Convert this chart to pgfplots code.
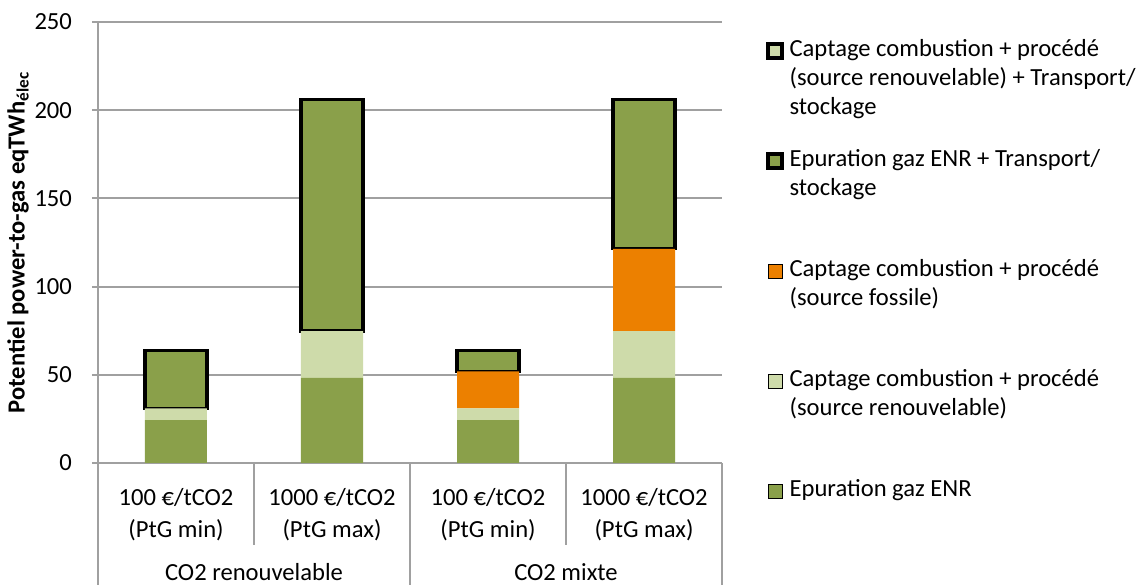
\documentclass[border=0pt]{standalone}
\usepackage{fontspec}
\setmainfont{Carlito}
\usepackage{pgfplots}
\pgfplotsset{compat=1.18}
\definecolor{enr}{RGB}{138,160,74}
\definecolor{ren}{RGB}{206,219,170}
\definecolor{fos}{RGB}{236,128,0}
\definecolor{axg}{RGB}{160,160,160}
\newcommand{\lt}[1]{\parbox[t]{190pt}{\strut #1}}
\begin{document}
\begin{tikzpicture}
\begin{axis}[name=a,
  scale only axis, width=312pt, height=220.5pt,
  ybar stacked, bar width=31pt,
  xmin=-0.5, xmax=3.5, ymin=0, ymax=250,
  xtick={0,1,2,3},
  xticklabels={{100 €/tCO2\\(PtG min)},{1000 €/tCO2\\(PtG max)},{100 €/tCO2\\(PtG min)},{1000 €/tCO2\\(PtG max)}},
  xticklabel style={align=center, font=\fontsize{12.3}{16}\selectfont, yshift=-6pt},
  xtick style={draw=none},
  ytick={0,50,...,250},
  ytick style={draw=axg, line width=1pt},
  tick align=outside, major tick length=3pt,
  yticklabel style={font=\fontsize{12.3}{14.6}\selectfont, xshift=-6.5pt},
  /pgf/number format/assume math mode=true,
  ymajorgrids, grid style={axg, line width=1pt},
  axis lines*=left, axis line style={axg, line width=1pt},
  clip=false,
  ylabel={\textbf{Potentiel power-to-gas eqTWh\textsubscript{élec}}},
  ylabel style={at={(axis description cs:-0.128,0.5)}, anchor=center, font=\fontsize{12.3}{14.6}\selectfont},
  legend image code/.code={\draw[#1] (0pt,16.5pt) rectangle (7pt,23.5pt);},
  reverse legend,
  legend style={draw=none, fill=none, inner sep=0pt, column sep=3pt, row sep=0pt,
    at={(axis description cs:1.0705,0.969)}, anchor=north west,
    nodes={inner sep=0pt, text height=10pt, text depth=45pt, font=\fontsize{12.3}{14.6}\selectfont}},
  legend cell align=left,
]
\addplot[fill=enr, draw=none] coordinates {(0,24.3) (1,48.2) (2,24.3) (3,48.2)};
\addlegendentry{\lt{Epuration gaz ENR}}
\addplot[fill=ren, draw=none] coordinates {(0,6.6) (1,26.6) (2,6.6) (3,26.6)};
\addlegendentry{\lt{Captage combustion + procédé\\(source renouvelable)}}
\addplot[fill=fos, draw=none] coordinates {(0,0) (1,0) (2,21.0) (3,46.6)};
\addlegendentry{\lt{Captage combustion + procédé\\(source fossile)}}
\addplot[fill=enr, draw=black, line width=1.6pt] coordinates {(0,32.9) (1,131.1) (2,11.7) (3,84.5)};
\addlegendentry{\lt{Epuration gaz ENR + Transport/\\stockage}}
\addlegendimage{fill=ren, draw=black, line width=1.6pt}
\addlegendentry{\lt{Captage combustion + procédé\\(source renouvelable) + Transport/\\stockage}}
\draw[axg, line width=1pt] (axis cs:0.5,0) -- ([yshift=-41pt]axis cs:0.5,0);
\draw[axg, line width=1pt] (axis cs:2.5,0) -- ([yshift=-41pt]axis cs:2.5,0);
\draw[axg, line width=1pt] (axis cs:-0.5,0) -- ([yshift=-61pt]axis cs:-0.5,0);
\draw[axg, line width=1pt] (axis cs:1.5,0) -- ([yshift=-61pt]axis cs:1.5,0);
\draw[axg, line width=1pt] (axis cs:3.5,0) -- ([yshift=-61pt]axis cs:3.5,0);
\node[anchor=base, font=\fontsize{12.3}{14.6}\selectfont] at ([yshift=-59pt]axis cs:0.5,0) {CO2 renouvelable};
\node[anchor=base, font=\fontsize{12.3}{14.6}\selectfont] at ([yshift=-59pt]axis cs:2.5,0) {CO2 mixte};
\end{axis}
\pgfresetboundingbox
\path[use as bounding box] ([shift={(-49pt,-61pt)}]a.south west) rectangle ([shift={(209.5pt,11pt)}]a.north east);
\end{tikzpicture}
\end{document}
